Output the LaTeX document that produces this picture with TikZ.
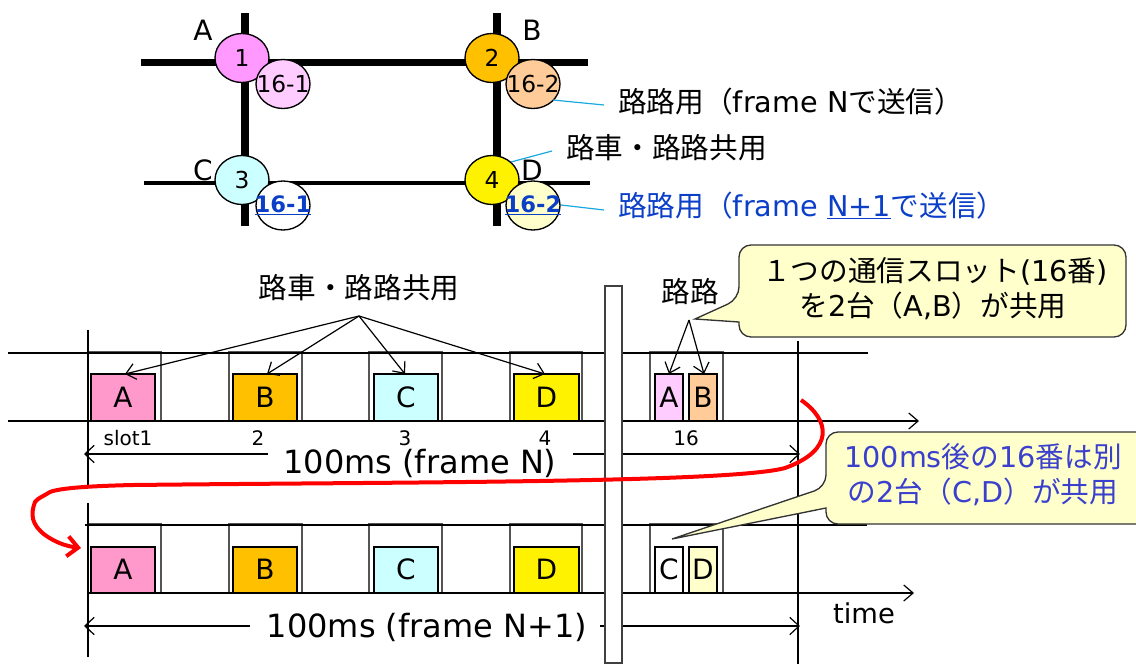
\documentclass[tikz,border=0pt]{standalone}
\usepackage{fontspec}
\setmainfont{DejaVu Sans}
\newfontfamily\cjk{Noto Sans CJK JP}
\usetikzlibrary{arrows.meta}
\newcommand{\J}[1]{{\cjk #1}}
\definecolor{tealline}{HTML}{19A9E0}
\definecolor{bluetx}{HTML}{0B3FC8}
\definecolor{calloutblue}{HTML}{3A40CC}
\definecolor{cream}{HTML}{FFFFCC}
\definecolor{pk}{HTML}{FF99FF}
\definecolor{lpk}{HTML}{FFCCFF}
\definecolor{org}{HTML}{FFC000}
\definecolor{lorg}{HTML}{FFCC99}
\definecolor{cyn}{HTML}{CCFFFF}
\definecolor{rose}{HTML}{FF99CC}
\definecolor{slotgray}{HTML}{555555}
\tikzset{
  road/.style={line width=5.4pt,line cap=butt},
  thinroad/.style={line width=3pt},
  leadline/.style={draw=tealline,line width=0.9pt},
  tline/.style={line width=0.9pt,draw=black},
  slotbox/.style={draw=slotgray,line width=0.9pt},
  fbox/.style={draw=black,line width=1pt},
  slab/.style={inner sep=0pt,font=\fontsize{21pt}{23pt}\selectfont},
  captxt/.style={inner sep=0pt,anchor=west,font=\fontsize{21.5pt}{24pt}\selectfont},
  dimline/.style={line width=0.9pt,-{Straight Barb[length=7pt,width=13pt]}},
  ptr/.style={line width=0.9pt,-{Straight Barb[length=7pt,width=12pt]}},
  smalltxt/.style={inner sep=0pt,font=\fontsize{15pt}{17pt}\selectfont},
  hugetxt/.style={inner sep=0pt,font=\fontsize{24pt}{27pt}\selectfont},
  callout/.style={draw=black!80,line width=1pt,fill=cream},
  boxtxt/.style={inner sep=0pt,font=\fontsize{21pt}{23pt}\selectfont},
}
\newcommand{\Ell}[6]{\path[draw=black,line width=1pt,fill=#4] (#2,#3) ellipse [x radius=27,y radius=24.5];
  \node[inner sep=0pt,font=\fontsize{#6}{18pt}\selectfont] (#1) at (#2,#3) {#5};}
\newcommand{\Bx}[7]{\draw[fbox,fill=#6] (#2,#3) rectangle (#4,#5);
  \node[boxtxt] (#1) at ({(#2+#4)/2},{(#3+#5)/2}) {#7};}
\begin{document}
\begin{tikzpicture}[x=0.75pt,y=-0.75pt]
\useasboundingbox (0,0) rectangle (1136,664);
% roads
\coordinate (r1l) at (141,62.5); \coordinate (r1r) at (588,62.5);
\coordinate (r2l) at (144,183); \coordinate (r2r) at (590,183);
\coordinate (v1t) at (245,13); \coordinate (v1b) at (245,226);
\coordinate (v2t) at (497,13); \coordinate (v2b) at (497,226);
\draw[road] (r1l) -- (r1r);
\draw[thinroad] (r2l) -- (r2r);
\draw[road] (v1t) -- (v1b);
\draw[road] (v2t) -- (v2b);
% circles
\Ell{n1}{242}{58}{pk}{1}{17.5pt}
\Ell{n161}{283}{84}{lpk}{16-1}{17.5pt}
\Ell{n2}{492}{58}{org}{2}{17.5pt}
\Ell{n162}{533}{84}{lorg}{16-2}{17.5pt}
\Ell{n3}{242}{180}{cyn}{3}{17.5pt}
\Ell{n4}{492}{180}{yellow}{4}{17.5pt}
\Ell{n163}{283}{205.5}{white}{\textcolor{bluetx}{\textbf{\underline{16-1}}}}{17pt}
\Ell{n164}{533}{205.5}{cream}{\textcolor{bluetx}{\textbf{\underline{16-2}}}}{17pt}
\node[slab] (la) at (203,30) {A};
\node[slab] (lb) at (532,30) {B};
\node[slab] (lc) at (203,170) {C};
\node[slab] (ld) at (532,170) {D};
% captions
\coordinate (c1a) at (553,100); \coordinate (c1b) at (604,105);
\coordinate (c2a) at (511,162); \coordinate (c2b) at (552,151);
\coordinate (c3a) at (561,205); \coordinate (c3b) at (604,210);
\draw[leadline] (c1a) -- (c1b);
\draw[leadline] (c2a) -- (c2b);
\draw[leadline] (c3a) -- (c3b);
\node[captxt] (t1) at (618,102) {\J{路路用（}frame N\J{で送信）}};
\node[captxt] (t2) at (566,148) {\J{路車・路路共用}};
\node[captxt,text=bluetx] (t3) at (618,206) {\J{路路用（}frame \underline{N+1}\J{で送信）}};
% frame lines
\coordinate (a1) at (8,353); \coordinate (a2) at (868,353);
\coordinate (b1) at (8,421); \coordinate (b2) at (919,421);
\coordinate (e1) at (85,525); \coordinate (e2) at (867,525);
\coordinate (f1) at (88,593); \coordinate (f2) at (914,593);
% slots
\foreach \l/\r in {88/161,229/302,369/442,510/582,650/723}{
  \draw[slotbox] (\l,421) -- (\l,352) -- (\r,352) -- (\r,421);
  \draw[slotbox] (\l,593) -- (\l,524) -- (\r,524) -- (\r,593);
}
\draw[tline] (a1) -- (a2);
\draw[tline,-{Straight Barb[length=7pt,width=12pt]}] (b1) -- (b2);
\draw[tline] (e1) -- (e2);
\draw[tline,-{Straight Barb[length=7pt,width=12pt]}] (f1) -- (f2);
% verticals
\coordinate (v3t) at (88,330); \coordinate (v3m) at (88,487);
\coordinate (v3n) at (88,503); \coordinate (v3b) at (88,657);
\coordinate (v4t) at (798,341); \coordinate (v4b) at (798,664);
\draw[tline] (v3t) -- (v3m);
\draw[tline] (v3n) -- (v3b);
\draw[tline] (v4t) -- (v4b);
% boxes
\Bx{a}{91}{374}{155}{420.5}{rose}{A}
\Bx{b}{233}{374}{297}{420.5}{org}{B}
\Bx{c}{374}{374}{438}{420.5}{cyn}{C}
\Bx{d}{514}{374}{579}{420.5}{yellow}{D}
\Bx{sa}{655}{374}{683}{420.5}{lpk}{A}
\Bx{sb}{689}{374}{717}{420.5}{lorg}{B}
\Bx{a2b}{91}{547}{155}{592.5}{rose}{A}
\Bx{b2b}{233}{547}{297}{592.5}{org}{B}
\Bx{c2b}{374}{547}{438}{592.5}{cyn}{C}
\Bx{d2b}{514}{547}{579}{592.5}{yellow}{D}
\Bx{sc}{655}{547}{683}{592.5}{white}{C}
\Bx{sd}{689}{547}{717}{592.5}{cream}{D}
% slot labels
\node[smalltxt] (s1) at (128,438) {slot1};
\node[smalltxt] (s2) at (258,438) {2};
\node[smalltxt] (s3) at (405,438) {3};
\node[smalltxt] (s4) at (545,438) {4};
\node[smalltxt] (s5) at (686,438) {16};
% dims
\node[hugetxt] (d1) at (420,463) {100ms (frame N)};
\node[hugetxt] (d2) at (427,627) {100ms (frame N+1)};
\coordinate (d1ls) at (268,454); \coordinate (d1le) at (84,454);
\coordinate (d1rs) at (573,454); \coordinate (d1re) at (800,454);
\coordinate (d2ls) at (250,626); \coordinate (d2le) at (84,626);
\coordinate (d2rs) at (600,626); \coordinate (d2re) at (800,626);
\draw[dimline] (d1ls) -- (d1le);
\draw[dimline] (d1rs) -- (d1re);
\draw[dimline] (d2ls) -- (d2le);
\draw[dimline] (d2rs) -- (d2re);
% white bar
\draw[draw=black!75,line width=0.9pt,fill=white] (605,286) rectangle (622,663);
% top labels and pointers
\node[captxt,anchor=center] (lr) at (359,288) {\J{路車・路路共用}};
\coordinate (p1) at (359,316);
\draw[ptr] (p1) -- (125,374);
\draw[ptr] (p1) -- (267,374);
\draw[ptr] (p1) -- (405,374);
\draw[ptr] (p1) -- (545,374);
\node[captxt,anchor=center] (rr) at (690,292) {\J{路路}};
\coordinate (p2) at (689,320);
\draw[ptr] (p2) -- (669,374);
\draw[ptr] (p2) -- (704,374);
\node[inner sep=0pt,font=\fontsize{20.5pt}{23pt}\selectfont] (tm) at (864,613) {time};
% red curve
\coordinate (rs) at (801,400); \coordinate (re) at (81,548);
\draw[red,line width=3pt,-{Straight Barb[length=8pt,width=15pt,line width=3pt]}]
  (rs) .. controls (830,420) and (835,450) .. (785,468)
  .. controls (730,483) and (400,482) .. (133,485)
  .. controls (90,486) and (60,488) .. (50,492)
  .. controls (42,497) and (38,498) .. (35,502)
  .. controls (30,515) and (32,525) .. (45,535)
  .. controls (55,542) and (65,546) .. (re);
% callouts
\draw[callout,rounded corners=9pt] (739,299) [sharp corners] -- (695,319) -- (739,322) [rounded corners=9pt] -- (739,337) -- (1126,337) -- (1126,245) -- (739,245) -- cycle;
\node[captxt,anchor=center] (k1) at (935,271) {\J{１つの通信スロット}(16\J{番})};
\node[captxt,anchor=center] (k2) at (933,306) {\J{を}2\J{台（}A,B\J{）が共用}};
\draw[callout,rounded corners=9pt] (826,487) [sharp corners] -- (672,539) -- (826,508) [rounded corners=9pt] -- (826,524) -- (1150,524) -- (1150,432) -- (826,432) -- cycle;
\node[captxt,anchor=center,text=calloutblue] (k3) at (983,457) {100ms\J{後の}16\J{番は別}};
\node[captxt,anchor=center,text=calloutblue] (k4) at (983,492) {\J{の}2\J{台（}C,D\J{）が共用}};
\end{tikzpicture}
\end{document}
